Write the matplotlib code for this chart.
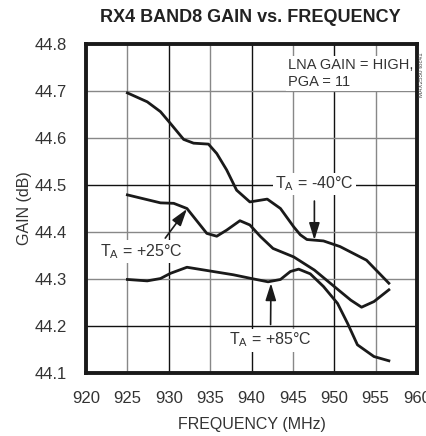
import numpy as np
import matplotlib
matplotlib.use("Agg")
import matplotlib.pyplot as plt

plt.rcParams['font.family'] = ['Liberation Sans Narrow', 'Liberation Sans', 'DejaVu Sans']
plt.rcParams['mathtext.fontset'] = 'custom'
plt.rcParams['mathtext.rm'] = 'Liberation Sans'

# gain vs frequency at three temperatures
f_m40 = [925, 927.4, 929, 930.2, 931.8, 933.0, 934.8, 935.8, 937.0, 938.2, 939.8, 941.9,
         943.5, 945.1, 945.9, 946.7, 948.7, 950.7, 953.9, 956.6]
g_m40 = [44.696, 44.677, 44.656, 44.631, 44.597, 44.589, 44.587, 44.567, 44.532, 44.489, 44.464, 44.470,
         44.450, 44.411, 44.394, 44.384, 44.381, 44.369, 44.340, 44.291]

f_25 = [925, 929, 930.6, 932.2, 934.6, 935.8, 937.0, 938.6, 939.8, 941.1, 942.6, 945.1,
        947.6, 950.0, 952.0, 953.3, 954.8, 956.6]
g_25 = [44.479, 44.462, 44.461, 44.450, 44.397, 44.391, 44.404, 44.424, 44.415, 44.390, 44.365, 44.347,
        44.319, 44.284, 44.255, 44.240, 44.252, 44.277]

f_85 = [925, 927.4, 929, 930.2, 932.2, 935, 937.8, 940.0, 942.0, 943.5, 944.7, 945.7,
        947.1, 948.7, 950.4, 951.6, 952.8, 954.8, 956.6]
g_85 = [44.299, 44.296, 44.301, 44.312, 44.325, 44.317, 44.309, 44.301, 44.294, 44.299, 44.316, 44.321,
        44.311, 44.284, 44.248, 44.206, 44.160, 44.135, 44.126]

xticks = [920, 925, 930, 935, 940, 945, 950, 955, 960]
yticks = [44.1, 44.2, 44.3, 44.4, 44.5, 44.6, 44.7, 44.8]

fig = plt.figure(figsize=(4.27, 4.36), dpi=100)
ax = fig.add_axes([86/427, 1-373/436, 331/427, 329/436])

# grid: some lines black, others gray
for x in xticks[1:-1]:
    c = '#111111' if x % 10 == 0 else '#888888'
    ax.axvline(x, color=c, lw=1.0, zorder=1)
for y in yticks[1:-1]:
    c = '#111111' if round(y*10) in (442, 445) else '#888888'
    ax.axhline(y, color=c, lw=1.0, zorder=1)

for f, g in [(f_m40, g_m40), (f_25, g_25), (f_85, g_85)]:
    ax.plot(f, g, color='#1a1a1a', lw=2.0, zorder=4, solid_joinstyle='round')

ax.set_xlim(920, 960)
ax.set_ylim(44.1, 44.8)
ax.set_xticks(xticks)
ax.set_yticks(yticks)
ax.set_xticklabels([str(x) for x in xticks])
ax.set_yticklabels([f"{y:.1f}" for y in yticks])
ax.tick_params(length=0, labelsize=12, colors='#333333')
ax.tick_params(axis='x', pad=13)
ax.tick_params(axis='y', pad=14)
for s in ax.spines.values():
    s.set_linewidth(2.8)
    s.set_color('#1a1a1a')

ax.set_xlabel('FREQUENCY (MHz)', fontsize=11.5, color='#333333', va='center')
ax.set_ylabel('GAIN (dB)', fontsize=11.5, color='#333333', va='center', ha='center')
ax.xaxis.set_label_coords(0.5, -0.158)
ax.yaxis.set_label_coords(-0.187, 0.5)

fig.text(250/427, 1-18/436, 'RX4 BAND8 GAIN vs. FREQUENCY', ha='center', va='center',
         fontsize=13, fontweight='bold', color='#222222')
fig.text(422/427, 1-75/436, 'MAX2550 toc41', rotation=90, ha='center', va='center',
         fontsize=4.5, color='#444444')

box = dict(facecolor='white', edgecolor='none', pad=1.5)
ax.text(944.4, 44.737, 'LNA GAIN = HIGH,\nPGA = 11', ha='left', va='center', fontsize=10.5,
        color='#333333', bbox=box, zorder=3, linespacing=1.3)

arrow = dict(arrowstyle='-|>,head_length=0.9,head_width=0.28', color='#1a1a1a', lw=1.2)
ax.annotate(r'T$_\mathregular{A}$ = -40°C', xy=(947.6, 44.383), xytext=(947.6, 44.502),
            ha='center', va='center', fontsize=11.5, color='#333333', bbox=box, zorder=3,
            arrowprops=dict(arrow, shrinkA=4, shrinkB=0))
ax.annotate(r'T$_\mathregular{A}$ = +25°C', xy=(932.2, 44.449), xytext=(926.7, 44.358),
            ha='center', va='center', fontsize=11.5, color='#333333', bbox=box, zorder=3,
            arrowprops=dict(arrow, shrinkA=2, shrinkB=0, relpos=(0.75, 1.0)))
ax.annotate(r'T$_\mathregular{A}$ = +85°C', xy=(942.35, 44.291), xytext=(942.3, 44.170),
            ha='center', va='center', fontsize=11.5, color='#333333', bbox=box, zorder=3,
            arrowprops=dict(arrow, shrinkA=3, shrinkB=0, relpos=(0.5, 1.0)))

fig.savefig('out.png', dpi=100)
